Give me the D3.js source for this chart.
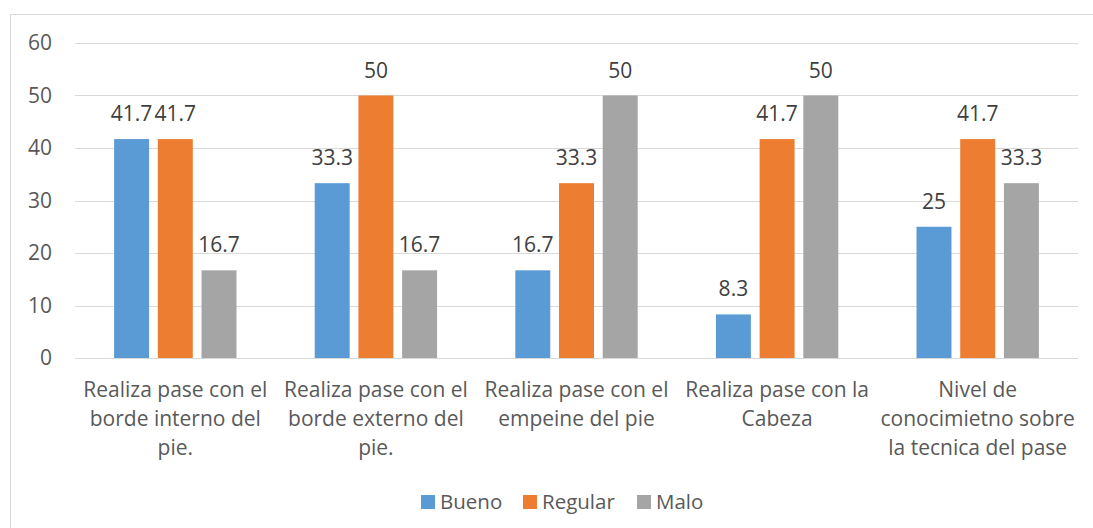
<!DOCTYPE html>
<html>
<head>
<meta charset="utf-8">
<script src="https://cdn.jsdelivr.net/npm/d3@7"></script>
<style>
  body { margin: 0; background: #fff; }
  svg { display: block; font-family: "Open Sans", Lato, sans-serif; }
</style>
</head>
<body>
<svg id="chart" width="1093" height="528"></svg>
<script>
// chart data
const categories = [
    ["Realiza pase con el", "borde interno del", "pie."],
    ["Realiza pase con el", "borde externo del", "pie."],
    ["Realiza pase con el", "empeine del pie"],
    ["Realiza pase con la", "Cabeza"],
    ["Nivel de", "conocimietno sobre", "la tecnica del pase"]
];
const seriesNames = ["Bueno", "Regular", "Malo"];
const bueno = [41.7, 33.3, 16.7, 8.3, 25];
const regular = [41.7, 50, 33.3, 41.7, 41.7];
const malo = [16.7, 16.7, 50, 50, 33.3];
const yTicks = [0, 10, 20, 30, 40, 50, 60];
const colors = ["#5B9BD5", "#ED7D31", "#A5A5A5"];

const series = [bueno, regular, malo];
const svg = d3.select("#chart");
const textColor = "#595959";

// outer chart frame
svg.append("rect")
    .attr("x", 10.5).attr("y", 14.5)
    .attr("width", 1100).attr("height", 600)
    .attr("fill", "none")
    .attr("stroke", "#d9d9d9");

const plot = {left: 75, right: 1078, top: 43, bottom: 358};

const y = d3.scaleLinear()
    .domain([0, 60])
    .range([plot.bottom, plot.top]);

const x0 = d3.scaleBand()
    .domain(d3.range(categories.length))
    .range([plot.left, plot.right])
    .paddingInner(0.39)
    .paddingOuter(0.195);

const x1 = d3.scaleBand()
    .domain(d3.range(series.length))
    .range([0, x0.bandwidth()])
    .paddingInner(0.2);

// gridlines
svg.append("g")
    .selectAll("line")
    .data(yTicks)
    .join("line")
    .attr("x1", plot.left).attr("x2", plot.right)
    .attr("y1", d => Math.round(y(d)) + 0.5)
    .attr("y2", d => Math.round(y(d)) + 0.5)
    .attr("stroke", "#d9d9d9")
    .attr("stroke-width", 1);

// y tick labels
svg.append("g")
    .selectAll("text")
    .data(yTicks)
    .join("text")
    .attr("x", 52)
    .attr("y", d => y(d))
    .attr("dy", "0.35em")
    .attr("text-anchor", "end")
    .attr("font-size", 21)
    .attr("fill", textColor)
    .text(d => d);

// bars
const groups = svg.append("g")
    .selectAll("g")
    .data(categories.map((c, i) => i))
    .join("g")
    .attr("transform", i => `translate(${x0(i)},0)`);

groups.selectAll("rect")
    .data(i => series.map((s, j) => ({j, v: s[i]})))
    .join("rect")
    .attr("x", d => x1(d.j))
    .attr("y", d => y(d.v))
    .attr("width", x1.bandwidth())
    .attr("height", d => y(0) - y(d.v))
    .attr("fill", d => colors[d.j]);

// data labels
groups.selectAll("text")
    .data(i => series.map((s, j) => ({j, v: s[i]})))
    .join("text")
    .attr("x", d => x1(d.j) + x1.bandwidth() / 2)
    .attr("y", d => y(d.v) - 18)
    .attr("text-anchor", "middle")
    .attr("font-size", 21)
    .attr("fill", "#404040")
    .text(d => d.v);

// category labels
svg.append("g")
    .selectAll("text")
    .data(categories)
    .join("text")
    .attr("x", (d, i) => x0(i) + x0.bandwidth() / 2)
    .attr("y", 397)
    .attr("text-anchor", "middle")
    .attr("font-size", 21)
    .attr("fill", textColor)
    .selectAll("tspan")
    .data(d => d)
    .join("tspan")
    .attr("x", function () { return this.parentNode.getAttribute("x"); })
    .attr("dy", (d, k) => k === 0 ? 0 : 29)
    .text(d => d);

// legend
const legendX = [421, 523, 637];
const legend = svg.append("g")
    .selectAll("g")
    .data(seriesNames)
    .join("g")
    .attr("transform", (d, i) => `translate(${legendX[i]},495)`);

legend.append("rect")
    .attr("width", 14).attr("height", 14)
    .attr("fill", (d, i) => colors[i]);

legend.append("text")
    .attr("x", 19).attr("y", 7)
    .attr("dy", "0.35em")
    .attr("font-size", 20.5)
    .attr("fill", textColor)
    .text(d => d);
</script>
</body>
</html>
